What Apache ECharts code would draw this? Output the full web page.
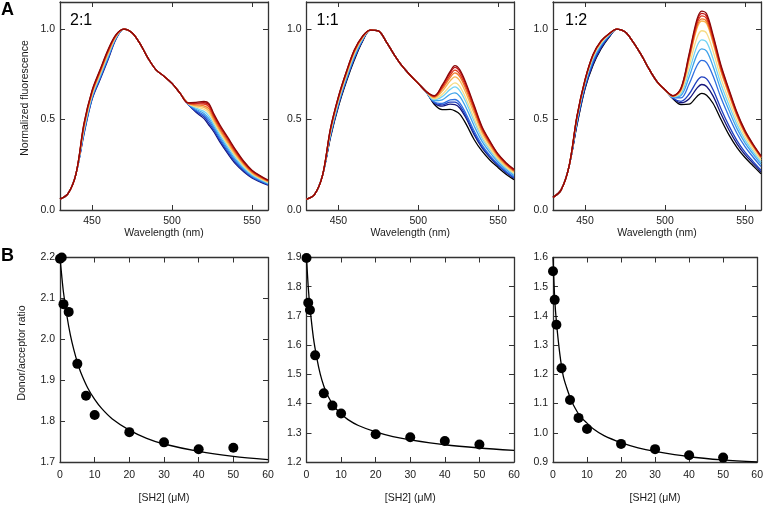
<!DOCTYPE html>
<html><head><meta charset="utf-8">
<script src="https://cdn.jsdelivr.net/npm/echarts@6/dist/echarts.min.js"></script>
<style>html,body{margin:0;padding:0;background:#fff}#c{width:766px;height:505px}</style>
</head><body><div id="c"></div>
<script>
// ---------- DATA ----------
const wavelengths = [430,435,440,445,450,455,460,465,470,475,480,485,490,495,500,505,510,515,520,523,526,530,535,540,545,550,555,560];

// Panel A, 2:1 (11 spectra, low -> high acceptor)
const spectra21 = [
 [0.06,0.09,0.20,0.420,0.610,0.720,0.830,0.945,1.0,0.98,0.92,0.84,0.775,0.74,0.70,0.646,0.585,0.540,0.505,0.470,0.434,0.375,0.310,0.252,0.210,0.177,0.155,0.137],
 [0.06,0.09,0.20,0.426,0.615,0.726,0.836,0.948,1.0,0.98,0.92,0.84,0.775,0.74,0.70,0.646,0.586,0.546,0.515,0.482,0.444,0.385,0.319,0.260,0.216,0.181,0.159,0.140],
 [0.06,0.09,0.20,0.432,0.620,0.731,0.841,0.950,1.0,0.98,0.92,0.84,0.775,0.74,0.70,0.646,0.586,0.551,0.524,0.494,0.454,0.394,0.328,0.268,0.222,0.186,0.162,0.143],
 [0.06,0.09,0.20,0.438,0.625,0.737,0.847,0.953,1.0,0.98,0.92,0.84,0.775,0.74,0.70,0.646,0.587,0.557,0.534,0.506,0.464,0.404,0.337,0.275,0.227,0.190,0.166,0.146],
 [0.06,0.09,0.20,0.445,0.631,0.743,0.854,0.956,1.0,0.98,0.92,0.84,0.775,0.74,0.70,0.646,0.588,0.563,0.545,0.520,0.476,0.415,0.348,0.285,0.234,0.195,0.170,0.149],
 [0.06,0.09,0.20,0.453,0.638,0.750,0.861,0.959,1.0,0.98,0.92,0.84,0.775,0.74,0.70,0.646,0.589,0.570,0.557,0.536,0.489,0.427,0.360,0.295,0.242,0.201,0.174,0.153],
 [0.06,0.09,0.20,0.459,0.643,0.756,0.866,0.961,1.0,0.98,0.92,0.84,0.775,0.74,0.70,0.646,0.590,0.576,0.567,0.548,0.499,0.437,0.369,0.303,0.248,0.205,0.178,0.156],
 [0.06,0.09,0.20,0.465,0.648,0.761,0.872,0.964,1.0,0.98,0.92,0.84,0.775,0.74,0.70,0.646,0.590,0.581,0.576,0.560,0.509,0.446,0.378,0.311,0.254,0.209,0.181,0.159],
 [0.06,0.09,0.20,0.471,0.653,0.767,0.878,0.966,1.0,0.98,0.92,0.84,0.775,0.74,0.70,0.646,0.591,0.587,0.586,0.572,0.519,0.456,0.387,0.318,0.259,0.214,0.185,0.162],
 [0.06,0.09,0.20,0.476,0.657,0.771,0.882,0.968,1.0,0.98,0.92,0.84,0.775,0.74,0.70,0.646,0.592,0.591,0.593,0.582,0.527,0.463,0.394,0.325,0.264,0.217,0.188,0.164],
 [0.06,0.09,0.20,0.480,0.660,0.775,0.886,0.970,1.0,0.98,0.92,0.84,0.775,0.74,0.70,0.646,0.592,0.595,0.600,0.590,0.534,0.470,0.400,0.330,0.268,0.220,0.190,0.166]
];

// Panel A, 1:1 (12 spectra)
const spectra11 = [
 [0.06,0.085,0.19,0.400,0.572,0.710,0.830,0.930,0.995,0.99,0.93,0.858,0.795,0.745,0.70,0.652,0.585,0.555,0.556,0.548,0.530,0.475,0.390,0.325,0.275,0.235,0.198,0.168],
 [0.06,0.085,0.19,0.407,0.580,0.718,0.838,0.934,0.995,0.99,0.93,0.858,0.795,0.745,0.70,0.652,0.592,0.574,0.585,0.583,0.564,0.507,0.417,0.344,0.290,0.246,0.207,0.176],
 [0.06,0.085,0.19,0.410,0.582,0.721,0.841,0.936,0.995,0.99,0.93,0.858,0.795,0.745,0.70,0.653,0.594,0.581,0.596,0.596,0.577,0.518,0.426,0.351,0.295,0.249,0.210,0.179],
 [0.06,0.085,0.19,0.413,0.586,0.724,0.844,0.938,0.995,0.99,0.93,0.858,0.795,0.745,0.70,0.653,0.597,0.589,0.609,0.611,0.592,0.531,0.438,0.359,0.301,0.254,0.214,0.182],
 [0.06,0.085,0.19,0.420,0.594,0.732,0.852,0.942,0.995,0.99,0.93,0.858,0.795,0.745,0.70,0.653,0.604,0.609,0.640,0.648,0.628,0.565,0.466,0.379,0.317,0.265,0.224,0.191],
 [0.06,0.085,0.19,0.427,0.601,0.740,0.860,0.946,0.995,0.99,0.93,0.858,0.795,0.745,0.70,0.654,0.610,0.627,0.667,0.681,0.660,0.594,0.491,0.397,0.331,0.275,0.232,0.198],
 [0.06,0.085,0.19,0.431,0.606,0.745,0.865,0.949,0.995,0.99,0.93,0.858,0.795,0.745,0.70,0.654,0.614,0.639,0.686,0.703,0.683,0.615,0.508,0.409,0.340,0.282,0.238,0.203],
 [0.06,0.085,0.19,0.438,0.613,0.752,0.872,0.953,0.995,0.99,0.93,0.858,0.795,0.745,0.70,0.654,0.620,0.656,0.714,0.736,0.715,0.644,0.533,0.426,0.354,0.291,0.246,0.211],
 [0.06,0.085,0.19,0.442,0.618,0.757,0.877,0.955,0.995,0.99,0.93,0.858,0.795,0.745,0.70,0.655,0.624,0.668,0.732,0.758,0.737,0.664,0.550,0.438,0.363,0.298,0.252,0.216],
 [0.06,0.085,0.19,0.445,0.622,0.760,0.880,0.957,0.995,0.99,0.93,0.858,0.795,0.745,0.70,0.655,0.627,0.677,0.745,0.773,0.751,0.678,0.561,0.447,0.370,0.303,0.256,0.219],
 [0.06,0.085,0.19,0.448,0.625,0.764,0.884,0.959,0.995,0.99,0.93,0.858,0.795,0.745,0.70,0.655,0.630,0.685,0.758,0.788,0.766,0.691,0.572,0.455,0.376,0.307,0.259,0.223],
 [0.06,0.085,0.19,0.450,0.627,0.766,0.886,0.960,0.995,0.99,0.93,0.858,0.795,0.745,0.70,0.655,0.632,0.690,0.766,0.798,0.776,0.700,0.580,0.460,0.380,0.310,0.262,0.225]
];

// Panel A, 1:2 (12 spectra)
const spectra12 = [
 [0.07,0.11,0.24,0.470,0.670,0.800,0.890,0.955,1.0,0.985,0.93,0.86,0.78,0.71,0.665,0.615,0.583,0.585,0.628,0.645,0.635,0.590,0.500,0.415,0.345,0.290,0.245,0.200],
 [0.07,0.11,0.24,0.475,0.675,0.806,0.895,0.957,1.0,0.985,0.93,0.86,0.78,0.71,0.665,0.617,0.593,0.614,0.674,0.694,0.683,0.631,0.532,0.442,0.366,0.306,0.258,0.211],
 [0.07,0.11,0.24,0.480,0.680,0.812,0.899,0.959,1.0,0.985,0.93,0.86,0.78,0.71,0.665,0.618,0.601,0.640,0.713,0.736,0.725,0.666,0.560,0.465,0.384,0.320,0.269,0.220],
 [0.07,0.11,0.24,0.490,0.690,0.824,0.908,0.963,1.0,0.985,0.93,0.86,0.78,0.71,0.665,0.622,0.620,0.695,0.799,0.827,0.815,0.742,0.620,0.516,0.423,0.350,0.293,0.240],
 [0.07,0.11,0.24,0.497,0.697,0.832,0.914,0.966,1.0,0.985,0.93,0.86,0.78,0.71,0.665,0.624,0.633,0.734,0.859,0.891,0.878,0.795,0.662,0.551,0.450,0.371,0.310,0.254],
 [0.07,0.11,0.24,0.503,0.703,0.839,0.919,0.968,1.0,0.985,0.93,0.86,0.78,0.71,0.665,0.626,0.643,0.764,0.906,0.941,0.928,0.837,0.695,0.579,0.472,0.388,0.323,0.265],
 [0.07,0.11,0.24,0.508,0.708,0.846,0.924,0.970,1.0,0.985,0.93,0.86,0.78,0.71,0.665,0.628,0.653,0.794,0.952,0.991,0.977,0.879,0.728,0.607,0.493,0.404,0.336,0.276],
 [0.07,0.11,0.24,0.514,0.714,0.853,0.930,0.973,1.0,0.985,0.93,0.86,0.78,0.71,0.665,0.630,0.664,0.827,1.004,1.045,1.031,0.924,0.764,0.637,0.517,0.422,0.351,0.288],
 [0.07,0.11,0.24,0.515,0.715,0.854,0.931,0.973,1.0,0.985,0.93,0.86,0.78,0.71,0.665,0.630,0.666,0.834,1.015,1.057,1.043,0.934,0.772,0.643,0.522,0.426,0.354,0.291],
 [0.07,0.11,0.24,0.517,0.717,0.856,0.932,0.974,1.0,0.985,0.93,0.86,0.78,0.71,0.665,0.631,0.669,0.844,1.029,1.073,1.058,0.947,0.782,0.652,0.528,0.431,0.358,0.294],
 [0.07,0.11,0.24,0.519,0.719,0.858,0.934,0.974,1.0,0.985,0.93,0.86,0.78,0.71,0.665,0.632,0.672,0.852,1.043,1.087,1.072,0.959,0.792,0.660,0.535,0.436,0.362,0.297],
 [0.07,0.11,0.24,0.520,0.720,0.860,0.935,0.975,1.0,0.985,0.93,0.86,0.78,0.71,0.665,0.632,0.675,0.860,1.055,1.100,1.085,0.970,0.800,0.667,0.540,0.440,0.365,0.300]
];

const curveColors = ['#000000','#15157a','#1f3fbf','#2f6fe0','#3ea2ea','#72d3f3','#f6dc86','#f7b452','#f07c2c','#e0391c','#c51313','#8a0909'];

// Panel B: titration
const sh2Conc = [0,0.5,1,2.5,5,7.5,10,20,30,40,50];
const ratio21 = [2.197,2.2,2.086,2.067,1.94,1.862,1.815,1.773,1.748,1.731,1.735];
const ratio11 = [1.898,1.745,1.72,1.565,1.435,1.393,1.366,1.295,1.285,1.272,1.26];
const ratio12 = [1.553,1.455,1.37,1.221,1.112,1.051,1.013,0.962,0.944,0.923,0.915];

const fitConc = [0,0.5,1,2,3,4,5,6,8,10,12,15,20,25,30,40,50,60];
const fit21 = [2.2,2.155,2.115,2.057,2.01,1.974,1.944,1.919,1.881,1.853,1.831,1.806,1.778,1.758,1.744,1.726,1.714,1.706];
const fit11 = [1.9,1.80,1.73,1.625,1.555,1.50,1.46,1.43,1.39,1.365,1.345,1.325,1.303,1.287,1.276,1.259,1.248,1.24];
const fit12 = [1.6,1.46,1.38,1.27,1.195,1.155,1.122,1.095,1.056,1.033,1.012,0.99,0.966,0.948,0.936,0.918,0.907,0.90];

const wavelengthTicks = [450,500,550];
const fluorTicks = [0,0.5,1.0];
const concTicks = [0,10,20,30,40,50,60];
const ratioTicks21 = [1.7,1.8,1.9,2.0,2.1,2.2];
const ratioTicks11 = [1.2,1.3,1.4,1.5,1.6,1.7,1.8,1.9];
const ratioTicks12 = [0.9,1.0,1.1,1.2,1.3,1.4,1.5,1.6];
const ratioLabels = ['2:1','1:1','1:2'];

// ---------- CHART ----------
const FONT = '"Liberation Sans", Arial, Helvetica, sans-serif';
const TXT = '#1a1a1a';
const FRAME = '#333333';

const grids = [
  {left:60, top:2, width:208, height:208},
  {left:306.5, top:2, width:207.5, height:208},
  {left:553, top:2, width:208, height:208},
  {left:60, top:257.5, width:208, height:206},
  {left:306.5, top:257.5, width:207.5, height:206},
  {left:553, top:257.5, width:208, height:206}
];

const xAxes = [], yAxes = [];
function addAxes(gi, xr, xTicks, xName, xGap, xMargin, yr, yTicks, yFmt) {
  const common = {
    axisLine:{show:true, onZero:false, lineStyle:{color:FRAME, width:1.3}},
    splitLine:{show:false}
  };
  xAxes.push(Object.assign({}, common, {
    type:'value', gridIndex:gi, position:'bottom', min:xr[0], max:xr[1],
    axisTick:{show:true, inside:true, length:5, customValues:xTicks, lineStyle:{color:FRAME, width:1}},
    axisLabel:{show:true, customValues:xTicks, margin:xMargin, fontSize:10.5, color:TXT, fontFamily:FONT, formatter:v=>String(v)},
    name:xName, nameLocation:'middle', nameGap:xGap,
    nameTextStyle:{fontSize:10.5, color:TXT, fontFamily:FONT}
  }));
  xAxes.push(Object.assign({}, common, {
    type:'value', gridIndex:gi, position:'top', min:xr[0], max:xr[1],
    axisTick:{show:true, inside:true, length:5, customValues:xTicks, lineStyle:{color:FRAME, width:1}},
    axisLabel:{show:false}
  }));
  yAxes.push(Object.assign({}, common, {
    type:'value', gridIndex:gi, position:'left', min:yr[0], max:yr[1],
    axisTick:{show:true, inside:true, length:5, customValues:yTicks, lineStyle:{color:FRAME, width:1}},
    axisLabel:{show:true, customValues:yTicks, margin:5, fontSize:10.5, color:TXT, fontFamily:FONT, formatter:yFmt}
  }));
  yAxes.push(Object.assign({}, common, {
    type:'value', gridIndex:gi, position:'right', min:yr[0], max:yr[1],
    axisTick:{show:true, inside:true, length:5, customValues:yTicks, lineStyle:{color:FRAME, width:1}},
    axisLabel:{show:false}
  }));
}
const f1 = v => v.toFixed(1);
for (let i = 0; i < 3; i++) addAxes(i, [430,560], wavelengthTicks, 'Wavelength (nm)', 16, 6, [0,1.15], fluorTicks, f1);
addAxes(3, [0,60], concTicks, '[SH2] (\u03bcM)', 31, 8, [1.7,2.2], ratioTicks21, f1);
addAxes(4, [0,60], concTicks, '[SH2] (\u03bcM)', 31, 8, [1.2,1.9], ratioTicks11, f1);
addAxes(5, [0,60], concTicks, '[SH2] (\u03bcM)', 31, 8, [0.9,1.6], ratioTicks12, f1);

const series = [];
const spectraSets = [spectra21, spectra11, spectra12];
spectraSets.forEach((set, gi) => {
  const colors = set.length === 11 ? curveColors.slice(1) : curveColors;
  set.forEach((row, k) => {
    series.push({
      type:'line', xAxisIndex:gi*2, yAxisIndex:gi*2,
      data: wavelengths.map((w, j) => [w, row[j]]),
      smooth:0.35, showSymbol:false, symbol:'none',
      lineStyle:{color:colors[k], width:1.3},
      silent:true, z:2 + k
    });
  });
});
const ratios = [ratio21, ratio11, ratio12];
const fits = [fit21, fit11, fit12];
for (let p = 0; p < 3; p++) {
  const gi = 3 + p;
  series.push({
    type:'line', xAxisIndex:gi*2, yAxisIndex:gi*2,
    data: fitConc.map((c, j) => [c, fits[p][j]]),
    smooth:0.3, showSymbol:false, symbol:'none',
    lineStyle:{color:'#000', width:1.3}, silent:true, z:3
  });
  series.push({
    type:'scatter', xAxisIndex:gi*2, yAxisIndex:gi*2,
    data: sh2Conc.map((c, j) => [c, ratios[p][j]]),
    symbol:'circle', symbolSize:10, itemStyle:{color:'#000', opacity:1}, clip:false, silent:true, z:4
  });
}

const graphic = [
  {type:'text', left:1, top:1, style:{text:'A', font:'bold 18px ' + FONT, fill:'#000'}},
  {type:'text', left:1, top:247, style:{text:'B', font:'bold 18px ' + FONT, fill:'#000'}},
  {type:'text', x:25, y:98, rotation:Math.PI/2, style:{text:'Normalized fluorescence', x:0, y:0, align:'center', verticalAlign:'middle', font:'10.5px ' + FONT, fill:TXT}},
  {type:'text', x:22, y:353, rotation:Math.PI/2, style:{text:'Donor/acceptor ratio', x:0, y:0, align:'center', verticalAlign:'middle', font:'10.5px ' + FONT, fill:TXT}}
];
const labelX = [70, 316.5, 565];
ratioLabels.forEach((t, i) => {
  graphic.push({type:'text', x:labelX[i], y:21, style:{text:t, x:0, y:0, align:'left', verticalAlign:'middle', font:'16px ' + FONT, fill:'#000'}});
});

const chart = echarts.init(document.getElementById('c'), null, {renderer:'canvas'});
chart.setOption({
  animation:false,
  backgroundColor:'#fff',
  grid: grids.map(g => Object.assign({containLabel:false}, g)),
  xAxis: xAxes,
  yAxis: yAxes,
  series: series,
  graphic: graphic
});
</script></body></html>
